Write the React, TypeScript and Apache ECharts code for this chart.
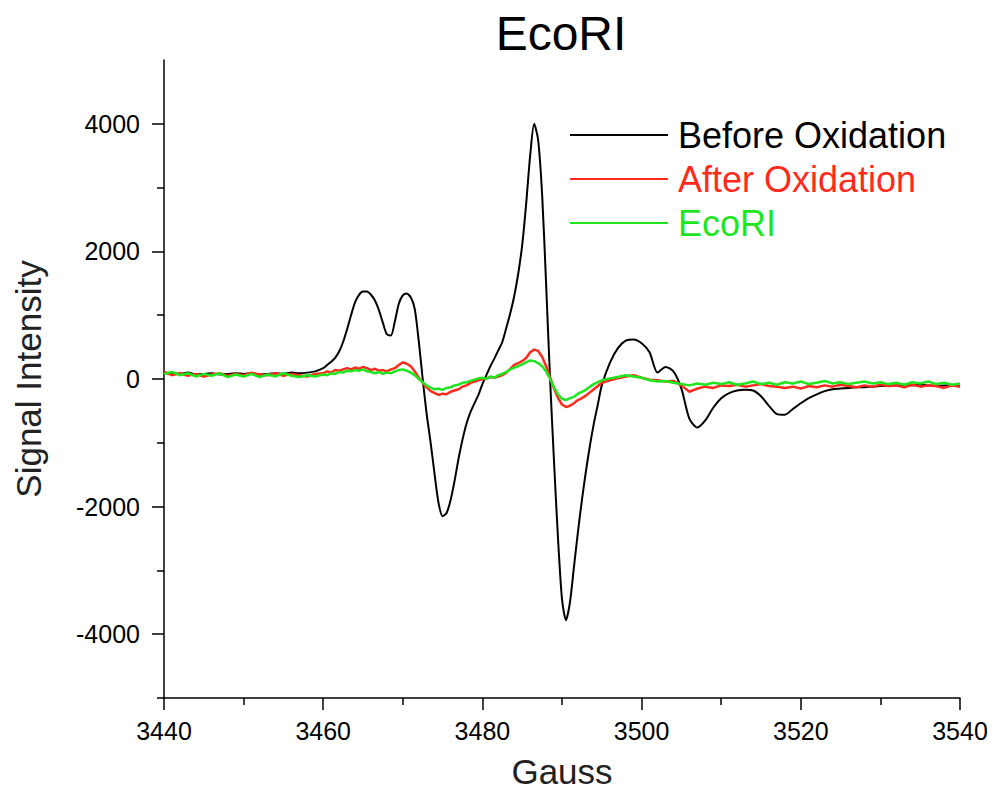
import React, { useEffect, useRef } from "react";
import * as echarts from "echarts";

const gauss = [
  3440, 3441, 3442, 3443, 3444, 3445, 3446, 3447, 3448, 3449,
  3450, 3451, 3452, 3453, 3454, 3455, 3456, 3457, 3458, 3459,
  3460, 3460.5, 3461, 3461.5, 3462, 3462.5, 3463, 3463.5, 3464, 3464.5,
  3465, 3465.5, 3466, 3466.5, 3467, 3467.5, 3468, 3468.5, 3469, 3469.5,
  3470, 3470.5, 3471, 3471.5, 3472, 3472.5, 3473, 3473.5, 3474, 3474.5,
  3475, 3475.5, 3476, 3476.5, 3477, 3477.5, 3478, 3478.5, 3479, 3479.5,
  3480, 3480.5, 3481, 3481.5, 3482, 3482.5, 3483, 3483.5, 3484, 3484.5,
  3485, 3485.5, 3486, 3486.5, 3487, 3487.5, 3488, 3488.5, 3489, 3489.5,
  3490, 3490.5, 3491, 3491.5, 3492, 3492.5, 3493, 3493.5, 3494, 3494.5,
  3495, 3496, 3497, 3498, 3499, 3500, 3501, 3502, 3503, 3504,
  3505, 3506, 3507, 3508, 3509, 3510, 3511, 3512, 3513, 3514,
  3515, 3516, 3517, 3518, 3519, 3520, 3521, 3522, 3523, 3524,
  3525, 3526, 3527, 3528, 3529, 3530, 3531, 3532, 3533, 3534,
  3535, 3536, 3537, 3538, 3539, 3540,
];

const beforeOxidation = [
  100, 90, 80, 100, 70, 80, 90, 70, 80, 90,
  80, 90, 70, 80, 90, 80, 100, 90, 100, 120,
  170, 220, 270, 330, 430, 580, 780, 1000, 1200, 1320,
  1370, 1370, 1320, 1230, 1080, 880, 700, 680, 900, 1180,
  1310, 1340, 1280, 1100, 600, 0, -550, -1000, -1500, -1950,
  -2150, -2100, -1900, -1600, -1250, -950, -700, -520, -380, -250,
  -80, 60, 200, 320, 450, 580, 800, 1030, 1300, 1650,
  2100, 2750, 3500, 4000, 3750, 2900, 1500, 0, -1300, -2500,
  -3450, -3780, -3500, -2950, -2400, -1900, -1450, -1050, -700, -400,
  -100, 250, 480, 600, 620, 560, 420, 100, 190, 120,
  -150, -620, -760, -650, -450, -300, -220, -180, -170, -180,
  -270, -420, -550, -560, -470, -380, -300, -240, -190, -160,
  -150, -140, -130, -130, -120, -110, -110, -100, -90, -100,
  -90, -100, -110, -100, -100, -110,
];

const afterOxidation = [
  110, 60, 90, 50, 80, 40, 70, 90, 50, 80,
  60, 100, 70, 60, 90, 50, 80, 60, 40, 80,
  90, 120, 100, 140, 130, 150, 170, 150, 180, 160,
  190, 170, 140, 160, 130, 140, 120, 150, 170, 220,
  260, 240, 200, 120, 20, -60, -130, -190, -220, -250,
  -230, -240, -200, -180, -160, -120, -100, -60, -40, -20,
  0, 10, 30, 20, 40, 60, 100, 160, 220, 250,
  280, 330, 420, 460, 440, 350, 200, 30, -150, -300,
  -400, -440, -420, -380, -330, -300, -260, -210, -160, -110,
  -60, -20, 10, 40, 60, 20, -10, -20, -40, -30,
  -100, -200, -150, -120, -140, -100, -110, -90, -120, -100,
  -80, -110, -120, -140, -120, -150, -110, -130, -100, -120,
  -90, -110, -130, -100, -120, -90, -110, -100, -130, -90,
  -120, -100, -110, -140, -100, -120,
];

const ecoRI = [
  80, 110, 60, 90, 40, 80, 50, 90, 30, 70,
  40, 80, 30, 70, 40, 90, 50, 30, 60, 40,
  70, 60, 90, 80, 110, 100, 130, 120, 140, 130,
  150, 120, 110, 90, 110, 80, 100, 90, 120, 140,
  150, 130, 100, 60, 0, -50, -100, -140, -160, -150,
  -170, -140, -130, -100, -90, -60, -50, -30, -10, 10,
  20, 0, 40, 20, 60, 80, 110, 150, 180, 200,
  230, 260, 290, 280, 250, 200, 120, 0, -130, -240,
  -310, -330, -300, -280, -230, -200, -170, -120, -80, -50,
  -20, 10, 30, 60, 40, 20, -20, -40, -30, -60,
  -80, -100, -70, -90, -60, -80, -50, -90, -70, -40,
  -80, -60, -90, -50, -70, -40, -80, -60, -30, -70,
  -50, -80, -60, -40, -70, -50, -80, -60, -90, -50,
  -70, -40, -80, -60, -90, -70,
];

const seriesNames = ["Before Oxidation", "After Oxidation", "EcoRI"];
const seriesColors = ["#000000", "#ff2a1c", "#1ee61e"];
const yMajorTicks = [-4000, -2000, 0, 2000, 4000];
const yMinorTicks = [-5000, -3000, -1000, 1000, 3000];

const FONT = "Liberation Sans, Arial, sans-serif";

export default function App() {
  const ref = useRef<HTMLDivElement>(null);
  useEffect(() => {
    if (!ref.current) return;
    const chart = echarts.init(ref.current, null, { renderer: "svg" });
    const values = [beforeOxidation, afterOxidation, ecoRI];
    const series = values.map((vals, i) => ({
      name: seriesNames[i],
      type: "line",
      showSymbol: false,
      symbol: "none",
      smooth: i === 0 ? 0.25 : false,
      data: gauss.map((g, j) => [g, vals[j]]),
      lineStyle: { color: seriesColors[i], width: i === 0 ? 2 : 2.5 },
      itemStyle: { color: seriesColors[i] },
      z: 2 + i,
    }));
    const plain = (v: number) => String(v);
    chart.setOption({
      animation: false,
      backgroundColor: "#ffffff",
      title: {
        text: "EcoRI",
        left: 556,
        textAlign: "center",
        top: 4,
        textStyle: { fontFamily: FONT, fontSize: 48, fontWeight: "normal", color: "#000" },
      },
      legend: {
        orient: "vertical",
        left: 565,
        top: 112,
        icon: "rect",
        itemWidth: 98,
        itemHeight: 2,
        itemGap: 8,
        textStyle: { fontFamily: FONT, fontSize: 36, lineHeight: 35, padding: [0, 0, 0, 5] },
        data: seriesNames.map((n, i) => ({ name: n, textStyle: { color: seriesColors[i] } })),
      },
      grid: { left: 164, right: 33, top: 60, bottom: 94, containLabel: false },
      xAxis: {
        type: "value",
        min: 3440,
        max: 3540,
        interval: 20,
        name: "Gauss",
        nameLocation: "middle",
        nameGap: 56,
        nameTextStyle: { fontFamily: FONT, fontSize: 35, color: "#222" },
        axisLine: { show: true, onZero: false, lineStyle: { color: "#000", width: 1.5 } },
        axisTick: { show: true, length: 12, lineStyle: { color: "#000", width: 1.5 } },
        minorTick: { show: true, splitNumber: 2, length: 7, lineStyle: { color: "#000", width: 1.5 } },
        axisLabel: { fontFamily: FONT, fontSize: 25, color: "#000", margin: 20, formatter: plain },
        splitLine: { show: false },
      },
      yAxis: [
        {
          type: "value",
          min: -5000,
          max: 5000,
          interval: 1000,
          name: "Signal Intensity",
          nameLocation: "middle",
          nameGap: 118,
          nameTextStyle: { fontFamily: FONT, fontSize: 35, color: "#222" },
          axisLine: { show: true, onZero: false, lineStyle: { color: "#000", width: 1.5 } },
          axisTick: { show: true, length: 12, customValues: yMajorTicks, lineStyle: { color: "#000", width: 1.5 } },
          axisLabel: { fontFamily: FONT, fontSize: 25, color: "#000", margin: 24, customValues: yMajorTicks, formatter: plain },
          splitLine: { show: false },
        },
        {
          type: "value",
          min: -5000,
          max: 5000,
          interval: 1000,
          position: "left",
          axisLine: { show: false },
          axisTick: { show: true, length: 7, customValues: yMinorTicks, lineStyle: { color: "#000", width: 1.5 } },
          axisLabel: { show: false },
          splitLine: { show: false },
        },
      ],
      series,
    });
    return () => chart.dispose();
  }, []);
  return (
    <div
      ref={ref}
      style={{ position: "fixed", left: 0, top: 0, width: 993, height: 794, background: "#fff" }}
    />
  );
}
